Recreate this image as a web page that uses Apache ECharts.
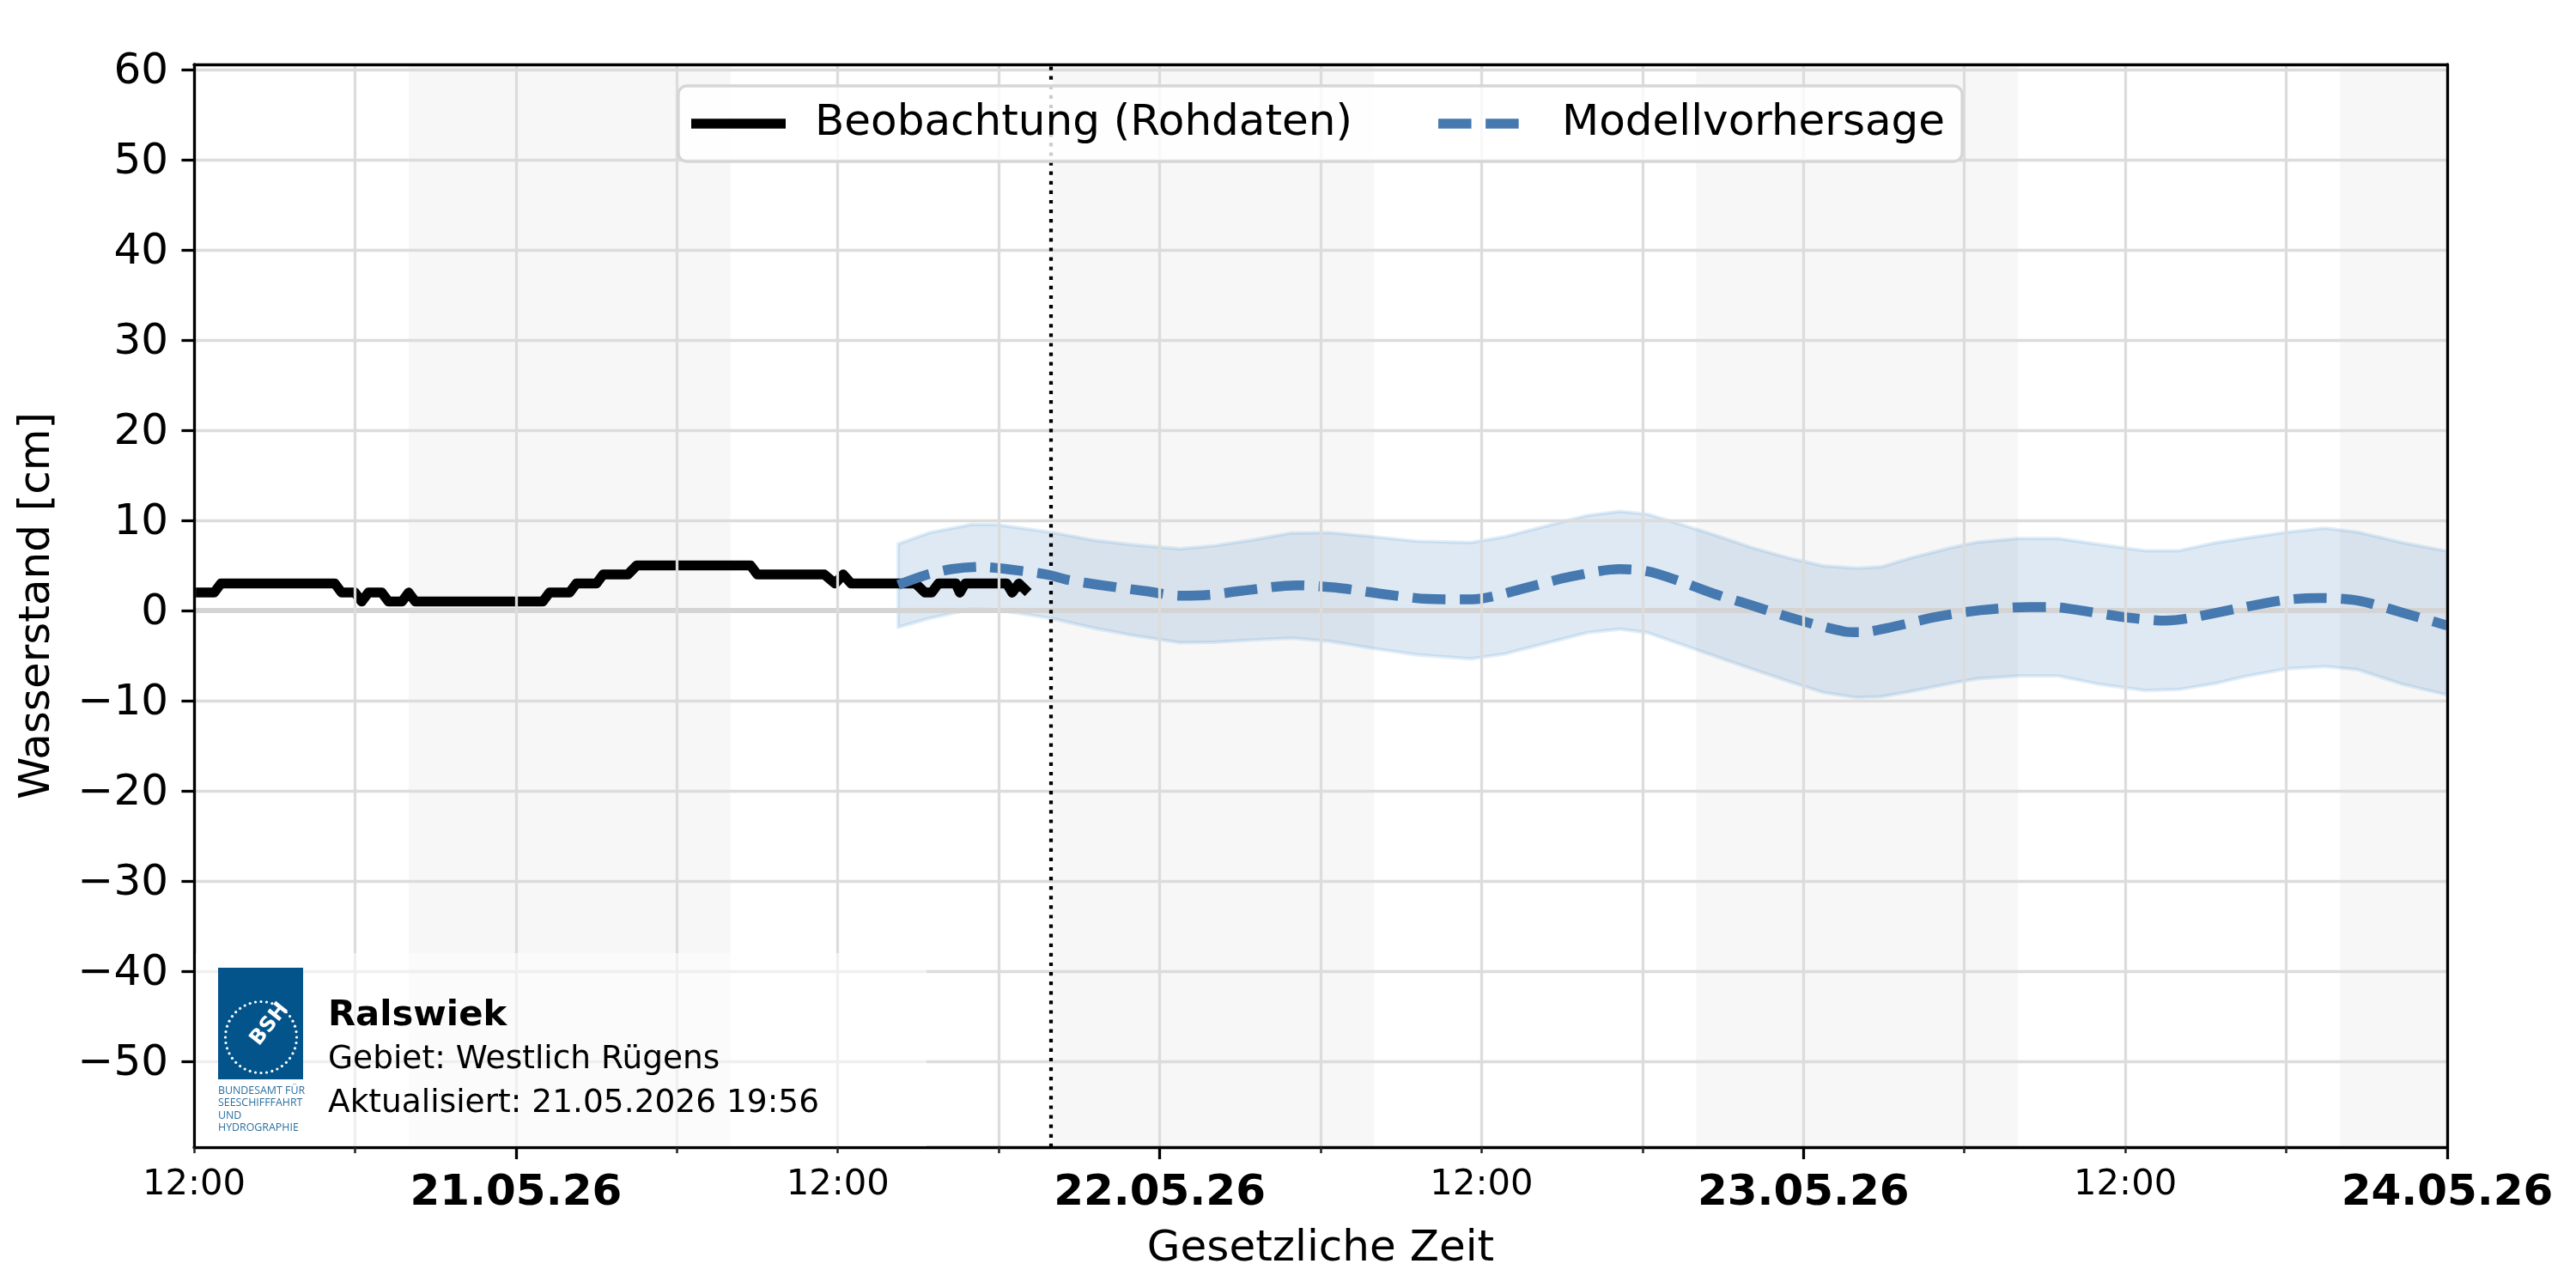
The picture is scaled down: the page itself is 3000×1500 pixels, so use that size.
<!DOCTYPE html>
<html><head><meta charset="utf-8">
<style>html,body{margin:0;padding:0;background:#fff}#c{width:3000px;height:1500px}</style>
<script src="https://cdn.jsdelivr.net/npm/echarts@6/dist/echarts.min.js"></script>
</head><body><div id="c"></div>
<script>
// hours counted from 20.05.26 00:00
const xMin = 12, xMax = 96, xStep = 6;
const yMin = -59.5, yMax = 60.57;
const yTicks = [-50,-40,-30,-20,-10,0,10,20,30,40,50,60];
const timeLabelHours = [12,36,60,84];
const timeLabelText = '12:00';
const dateHours = [24,48,72,96];
const dateLabels = ['21.05.26','22.05.26','23.05.26','24.05.26'];
const nightStart = [20,44,68,92];
const nightEnd = [32,56,80,96];
const updatedHour = 43.93;

const obsHours = [12,12.75,13,17.25,17.5,18,18.25,18.5,19,19.25,19.75,20,20.25,25,25.25,26,26.25,27,27.25,28.17,28.5,32.75,33,35.5,35.9,36.2,36.5,38.9,39.25,39.5,39.75,40.4,40.55,40.75,42.3,42.5,42.75,43.1];
const obsValues = [2,2,3,3,2,2,1,2,2,1,1,2,1,1,2,2,3,3,4,4,5,5,4,4,3,4,3,3,2,2,3,3,2,3,3,2,3,2];

const fcHours = [38.25,39.23,40.25,41.37,42.3,43.8,44.6,45.76,47.5,48.8,49.85,51.07,53.1,54.55,56.3,58,59.65,60.46,61.5,63.3,65.16,66.2,67.4,68.79,70,71.65,73.5,74.1,75.1,76.96,78.6,80.43,81.25,82.27,83.9,85.5,86.35,88.2,90,91.25,92.7,94.3,96];
const fcValues = [2.85,3.9,4.6,4.85,4.6,4,3.4,2.85,2.15,1.65,1.75,2.2,2.8,2.55,1.85,1.3,1.25,1.6,2.4,3.75,4.6,4.35,3.25,1.75,0.65,-0.9,-2.3,-2.4,-1.95,-0.7,0.05,0.4,0.4,0.05,-0.7,-1.1,-0.85,0.25,1.2,1.4,1.1,-0.2,-1.65];

const bandHours = [38.25,39.43,40.97,41.88,43.93,45.56,46.99,48.75,50.05,51.48,52.9,54.34,55.97,57.6,59.6,60.87,62.5,63.94,65.16,66.18,67.4,68.79,70,71.44,72.77,74,74.9,75.94,77.45,78.5,80.02,81.5,83,84.72,86,87.4,88.4,90.02,91.45,92.68,94.31,96];
const bandUpper = [7.4,8.65,9.55,9.55,8.7,7.8,7.3,6.85,7.2,7.85,8.6,8.65,8.2,7.7,7.55,8.2,9.45,10.55,11,10.7,9.6,8.3,7.05,5.85,4.95,4.7,4.85,5.8,6.95,7.6,8,8,7.35,6.65,6.65,7.55,8,8.7,9.15,8.7,7.55,6.6];
const bandLower = [-1.85,-0.85,0.15,0.1,-0.85,-1.95,-2.75,-3.55,-3.5,-3.25,-3.05,-3.4,-4.2,-4.9,-5.35,-4.8,-3.55,-2.45,-2.05,-2.45,-3.7,-5.15,-6.4,-7.85,-9.1,-9.65,-9.55,-9,-8.1,-7.55,-7.25,-7.25,-8.15,-8.85,-8.75,-8.05,-7.35,-6.45,-6.2,-6.55,-8.15,-9.35];

const FONT = 'DejaVu Sans';
const fs = {tick:50, time:41.7, date:50, axis:50, legend:50};
const logoLines = ['BUNDESAMT FÜR','SEESCHIFFFAHRT','UND','HYDROGRAPHIE'];

const chart = echarts.init(document.getElementById('c'), null, {renderer:'canvas', width:3000, height:1500});

const logoDots = [];
for (let i = 0; i < 40; i++) {
  const a = i / 40 * 2 * Math.PI;
  logoDots.push({type:'circle', z:61, silent:true,
    shape:{cx:304 + 41.5*Math.cos(a), cy:1208 + 41.5*Math.sin(a), r:1.6},
    style:{fill:'#ffffff'}});
}

chart.setOption({
  animation:false,
  backgroundColor:'#ffffff',
  textStyle:{fontFamily:FONT},
  grid:{left:226, right:150, top:75, bottom:164, containLabel:false, outerBoundsMode:'none'},
  legend:{
    data:[
      {name:'Beobachtung (Rohdaten)', icon:'path://M0 0H110V11.5H0Z'},
      {name:'Modellvorhersage', icon:'path://M0 0H38.5V11.5H0ZM55.1 0H93.6V11.5H55.1ZM109.9 0H110V0.01H109.9Z'}
    ],
    left:790, top:100, orient:'horizontal',
    itemWidth:110, itemHeight:11.5, itemGap:100,
    padding:[19,20,19,15],
    itemStyle:{borderWidth:0},
    backgroundColor:'rgba(255,255,255,0.8)',
    borderColor:'#d6d6d6', borderWidth:3.3, borderRadius:10,
    selectedMode:false, z:20,
    textStyle:{fontFamily:FONT, fontSize:fs.legend, color:'#000', padding:[0,0,0,29]}
  },
  xAxis:[
    {type:'value', position:'bottom', min:xMin, max:xMax, interval:xStep, z:10,
     name:'Gesetzliche Zeit', nameLocation:'middle', nameGap:94,
     nameTextStyle:{fontFamily:FONT, fontSize:fs.axis, color:'#000'},
     axisLine:{show:true, onZero:false, lineStyle:{color:'#000', width:3.3}},
     axisTick:{show:true, length:7, lineStyle:{color:'#222', width:2.5}},
     splitLine:{show:true, lineStyle:{color:'#dcdcdc', width:3.3}},
     axisLabel:{show:true, margin:18, showMinLabel:true, showMaxLabel:true, hideOverlap:false,
       formatter:v=>{
         const d = dateHours.indexOf(v);
         if (d >= 0) return '{d|'+dateLabels[d]+'}';
         if (timeLabelHours.indexOf(v) >= 0) return '{t|'+timeLabelText+'}';
         return '';
       },
       rich:{
         d:{fontFamily:FONT, fontSize:fs.date, fontWeight:'bold', color:'#000', lineHeight:72},
         t:{fontFamily:FONT, fontSize:fs.time, color:'#000', lineHeight:52}
       }}},
    {type:'value', position:'bottom', min:xMin, max:xMax, z:10,
     axisLine:{show:false, onZero:false},
     axisTick:{show:true, length:14, customValues:dateHours, lineStyle:{color:'#000', width:3.3}},
     splitLine:{show:false}, axisLabel:{show:false}},
    {type:'value', position:'top', min:xMin, max:xMax, z:10,
     axisLine:{show:true, onZero:false, lineStyle:{color:'#000', width:3.3}},
     axisTick:{show:false}, splitLine:{show:false}, axisLabel:{show:false}}
  ],
  yAxis:[
    {type:'value', position:'left', min:yMin, max:yMax, z:10,
     name:'Wasserstand [cm]', nameLocation:'middle', nameGap:157, nameRotate:90,
     nameTextStyle:{fontFamily:FONT, fontSize:fs.axis, color:'#000'},
     axisLine:{show:true, onZero:false, lineStyle:{color:'#000', width:3.3}},
     axisTick:{show:true, length:14.6, customValues:yTicks, lineStyle:{color:'#000', width:3.3}},
     splitLine:{show:false},
     axisLabel:{show:true, margin:30, customValues:yTicks, color:'#000',
       formatter:v=>'{y|'+String(v).replace('-','\u2212')+'}',
       rich:{y:{fontFamily:FONT, fontSize:fs.tick, color:'#000', lineHeight:50, padding:[6,0,0,0]}}}},
    {type:'value', position:'right', min:yMin, max:yMax, z:10,
     axisLine:{show:true, onZero:false, lineStyle:{color:'#000', width:3.3}},
     axisTick:{show:false}, splitLine:{show:false}, axisLabel:{show:false}}
  ],
  series:[
    {name:'night', type:'line', data:[], z:1, silent:true, symbol:'none',
     markArea:{silent:true, itemStyle:{color:'rgba(0,0,0,0.031)'}, label:{show:false},
       data:nightStart.map((s,i)=>[{xAxis:s},{xAxis:nightEnd[i]}])}},
    {name:'yGrid', type:'line', data:[], z:2, silent:true, symbol:'none',
     markLine:{silent:true, symbol:'none', label:{show:false}, animation:false,
       lineStyle:{color:'#dcdcdc', width:3.3, type:'solid'},
       data:yTicks.filter(v=>v!==0).map(v=>({yAxis:v})).concat([{yAxis:0, lineStyle:{color:'#d4d4d4', width:6, type:'solid'}}])}},
    {name:'band', type:'custom', z:3, silent:true, clip:true,
     data:bandHours.map((h,i)=>[h,bandUpper[i],bandLower[i]]),
     encode:{x:0,y:[1,2]},
     renderItem:(params,api)=>{
       if (params.dataIndex !== 0) return null;
       const up = bandHours.map((h,i)=>api.coord([h,bandUpper[i]]));
       const lo = bandHours.map((h,i)=>api.coord([h,bandLower[i]])).reverse();
       return {type:'polygon', shape:{points:up.concat(lo)},
         style:{fill:'rgba(70,135,190,0.18)', stroke:'rgba(110,170,220,0.2)', lineWidth:4.2, lineJoin:'round'}};
     }},
    {name:'Beobachtung (Rohdaten)', type:'line', z:4, color:'#000000', symbol:'none', smooth:false,
     data:obsHours.map((h,i)=>[h,obsValues[i]]),
     lineStyle:{color:'#000000', width:11.5, cap:'butt', join:'round'}},
    {name:'Modellvorhersage', type:'line', z:5, color:'#4679b0', symbol:'none', smooth:0.3,
     data:fcHours.map((h,i)=>[h,fcValues[i]]),
     lineStyle:{color:'#4679b0', width:11.5, type:[38.5,16.6], cap:'butt', join:'round'}},
    {name:'updated', type:'line', data:[], z:6, silent:true, symbol:'none',
     markLine:{silent:true, symbol:'none', label:{show:false}, animation:false,
       lineStyle:{color:'#000', width:4.2, type:[4.2,6.9], cap:'butt'},
       data:[{xAxis:updatedHour}]}}
  ],
  graphic:[
    {type:'rect', z:50, silent:true, shape:{x:228, y:1110, width:851, height:225},
     style:{fill:'rgba(255,255,255,0.55)'}},
    {type:'rect', z:60, silent:true, shape:{x:254, y:1127, width:99, height:130}, style:{fill:'#04548c'}},
    ...logoDots,
    {type:'text', z:62, silent:true, x:314, y:1193, rotation:0.9,
     style:{text:'BSH', fill:'#ffffff', font:'bold 24px "DejaVu Sans"', textAlign:'center', textVerticalAlign:'middle'}},
    ...logoLines.map((t,i)=>({type:'text', z:60, silent:true, x:254, y:1270+i*14.6,
      style:{text:t, fill:'#2a6f9f', font:'12.4px "Open Sans"', textAlign:'left', textVerticalAlign:'middle'}})),
    {type:'text', z:60, silent:true, x:382, y:1183,
     style:{text:'Ralswiek', fill:'#000', font:'bold 41.7px "DejaVu Sans"', textAlign:'left', textVerticalAlign:'middle'}},
    {type:'text', z:60, silent:true, x:382, y:1234,
     style:{text:'Gebiet: Westlich Rügens', fill:'#000', font:'37.5px "DejaVu Sans"', textAlign:'left', textVerticalAlign:'middle'}},
    {type:'text', z:60, silent:true, x:382, y:1285,
     style:{text:'Aktualisiert: 21.05.2026 19:56', fill:'#000', font:'37.5px "DejaVu Sans"', textAlign:'left', textVerticalAlign:'middle'}}
  ]
});
</script></body></html>
